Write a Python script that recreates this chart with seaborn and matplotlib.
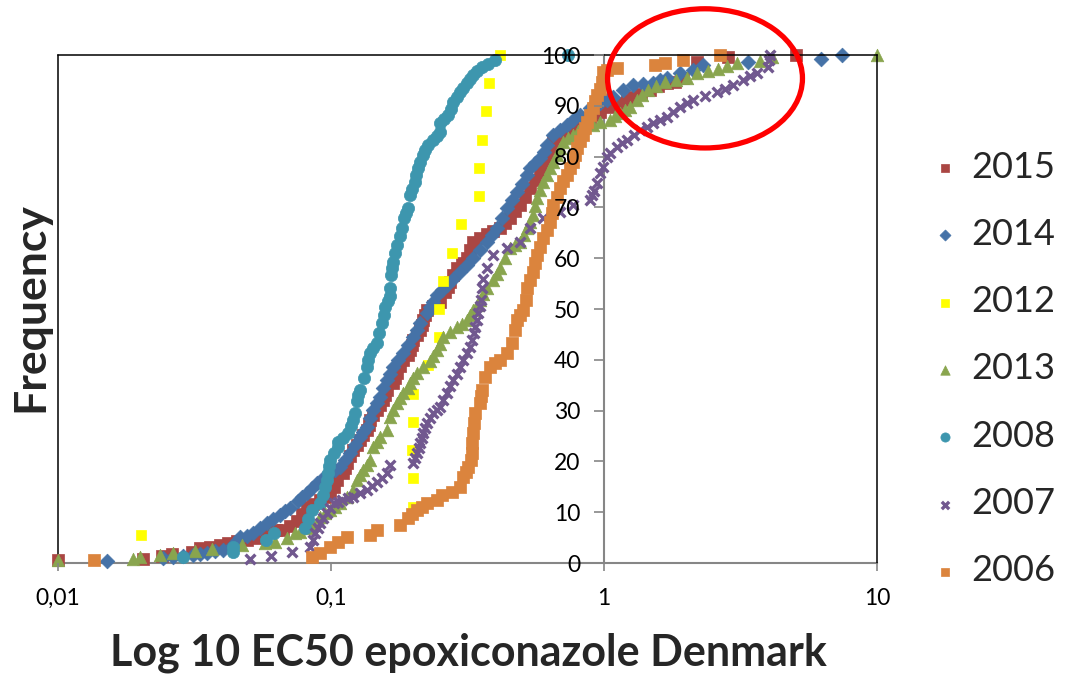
import matplotlib
matplotlib.use('Agg')
import matplotlib.pyplot as plt
from matplotlib.patches import Ellipse
from matplotlib.ticker import NullLocator
import seaborn as sns

sns.set_theme(style='white')
plt.rcParams['font.family'] = ['Lato', 'DejaVu Sans']

# ── EC50 values and cumulative frequency (%) per year ──
ec50_2015 = [0.0100, 0.0205, 0.0240, 0.0262, 0.0310, 0.0331, 0.0361, 0.0392, 0.0420, 0.0452,
             0.0493, 0.0536, 0.0560, 0.0598, 0.0630, 0.0667, 0.0708, 0.0751, 0.0783, 0.0817,
             0.0860, 0.0912, 0.0951, 0.0992, 0.1025, 0.1052, 0.1107, 0.1125, 0.1144, 0.1174,
             0.1204, 0.1245, 0.1277, 0.1310, 0.1355, 0.1377, 0.1389, 0.1425, 0.1474, 0.1512,
             0.1551, 0.1577, 0.1604, 0.1687, 0.1716, 0.1745, 0.1789, 0.1835, 0.1915, 0.1947,
             0.1980, 0.1997, 0.2066, 0.2118, 0.2155, 0.2173, 0.2210, 0.2248, 0.2364, 0.2508,
             0.2616, 0.2684, 0.2729, 0.2799, 0.2894, 0.3020, 0.3150, 0.3230, 0.3313, 0.3514,
             0.3727, 0.3920, 0.4159, 0.4339, 0.4525, 0.4720, 0.4924, 0.5136, 0.5357, 0.5588,
             0.5829, 0.6029, 0.6183, 0.6342, 0.6504, 0.6771, 0.7075, 0.7508, 0.7965, 0.8378,
             0.8887, 0.9270, 0.9668, 1.052, 1.144, 1.214, 1.277, 1.367, 1.474, 1.577,
             1.702, 1.820, 1.947, 2.190, 2.845, 5.05]
freq_2015 = [0.6, 0.8, 1.4, 1.8, 2.2, 3.0, 3.2, 3.5, 3.9, 4.3,
             4.6, 4.9, 5.5, 6.3, 6.4, 6.5, 7.3, 8.2, 9.6, 11.0,
             11.6, 12.4, 13.0, 13.8, 15.0, 16.3, 17.7, 18.7, 19.7, 21.0,
             22.2, 23.2, 24.2, 25.2, 26.2, 27.1, 28.1, 29.1, 30.1, 31.1,
             32.1, 33.1, 34.1, 35.4, 36.4, 37.4, 38.7, 40.0, 41.0, 41.9,
             42.9, 43.9, 44.9, 45.9, 46.9, 47.8, 48.8, 49.8, 50.6, 51.4,
             53.3, 54.3, 55.3, 56.7, 58.1, 59.0, 60.0, 61.6, 63.2, 64.0,
             64.8, 65.3, 65.9, 66.9, 67.9, 69.2, 70.5, 72.1, 73.8, 75.4,
             77.0, 78.6, 80.3, 81.6, 82.9, 83.9, 84.8, 85.5, 86.2, 86.9,
             87.6, 88.2, 88.8, 89.7, 90.6, 91.2, 91.7, 92.4, 93.1, 93.8,
             94.5, 94.7, 95.5, 98.6, 99.6, 100.0]

ec50_2014 = [0.0151, 0.0243, 0.0264, 0.0287, 0.0312, 0.0331, 0.0351, 0.0376, 0.0402, 0.0437,
             0.0452, 0.0464, 0.0493, 0.0518, 0.0550, 0.0583, 0.0612, 0.0651, 0.0679, 0.0708,
             0.0757, 0.0783, 0.0817, 0.0852, 0.0888, 0.0935, 0.0992, 0.1034, 0.1079, 0.1125,
             0.1174, 0.1224, 0.1277, 0.1310, 0.1355, 0.1389, 0.1425, 0.1474, 0.1512, 0.1557,
             0.1604, 0.1645, 0.1687, 0.1760, 0.1835, 0.1915, 0.1997, 0.2066, 0.2118, 0.2248,
             0.2305, 0.2364, 0.2445, 0.2551, 0.2661, 0.2799, 0.2969, 0.3150, 0.3313, 0.3514,
             0.3727, 0.3888, 0.4056, 0.4230, 0.4412, 0.4601, 0.4800, 0.5006, 0.5222, 0.5357,
             0.5588, 0.5829, 0.6029, 0.6183, 0.6504, 0.6900, 0.7320, 0.7700, 0.8168, 0.8887,
             0.9668, 1.026, 1.079, 1.174, 1.277, 1.390, 1.511, 1.604, 1.702, 1.898,
             2.118, 2.302, 3.368, 6.24, 7.45]
freq_2014 = [0.4, 1.0, 1.2, 1.4, 1.6, 1.8, 2.0, 2.3, 2.6, 3.5,
             4.3, 5.1, 5.4, 5.9, 6.9, 7.9, 8.7, 9.5, 10.2, 10.8,
             12.2, 13.0, 13.8, 14.8, 15.7, 16.7, 17.7, 18.3, 18.9, 20.3,
             21.7, 23.2, 24.8, 25.8, 26.8, 28.5, 30.1, 31.4, 32.7, 34.4,
             36.0, 37.3, 38.6, 40.0, 41.3, 43.0, 44.5, 45.8, 47.2, 49.2,
             50.3, 51.4, 52.8, 53.7, 54.7, 56.0, 57.3, 58.7, 60.0, 61.6,
             63.2, 64.5, 65.9, 67.9, 69.9, 71.5, 73.0, 74.6, 76.4, 77.8,
             78.7, 79.7, 81.0, 82.3, 84.3, 85.3, 86.2, 87.2, 88.2, 89.6,
             90.6, 91.2, 91.7, 93.1, 94.1, 94.3, 94.5, 95.0, 95.5, 96.5,
             97.0, 98.0, 98.6, 99.2, 100.0]

ec50_2012 = [0.0201, 0.1997, 0.1997, 0.1975, 0.1997, 0.1997, 0.2266, 0.2487, 0.2487,
             0.2572, 0.2776, 0.2994, 0.3484, 0.3484, 0.3574, 0.3696, 0.3791, 0.4159]
freq_2012 = [5.6, 11.1, 16.7, 22.2, 27.8, 33.3, 38.9, 44.4, 50.0,
             55.6, 61.1, 66.7, 72.2, 77.8, 83.3, 88.9, 94.4, 100.0]

ec50_2013 = [0.0100, 0.0188, 0.0200, 0.0236, 0.0264, 0.0318, 0.0366, 0.0472, 0.0573, 0.0624,
             0.0689, 0.0738, 0.0770, 0.0817, 0.0859, 0.0912, 0.0951, 0.0992, 0.1034, 0.1079,
             0.1144, 0.1204, 0.1245, 0.1277, 0.1310, 0.1355, 0.1389, 0.1425, 0.1474, 0.1512,
             0.1604, 0.1645, 0.1687, 0.1745, 0.1789, 0.1835, 0.1915, 0.1947, 0.1997, 0.2066,
             0.2173, 0.2305, 0.2364, 0.2445, 0.2508, 0.2572, 0.2729, 0.2894, 0.3020, 0.3150,
             0.3230, 0.3313, 0.3426, 0.3514, 0.3604, 0.3727, 0.3920, 0.4056, 0.4159, 0.4339,
             0.4525, 0.4720, 0.4924, 0.5092, 0.5222, 0.5357, 0.5494, 0.5588, 0.5683, 0.5829,
             0.5977, 0.6183, 0.6342, 0.6504, 0.6727, 0.6900, 0.7075, 0.7385, 0.7700, 0.8032,
             0.8378, 0.9115, 0.9668, 1.052, 1.097, 1.144, 1.194, 1.245, 1.322, 1.378,
             1.449, 1.550, 1.673, 1.836, 2.013, 2.190, 2.404, 2.617, 2.822, 3.071,
             3.727, 4.128, 10.0]
freq_2013 = [0.6, 0.8, 1.2, 1.6, 2.0, 2.4, 2.8, 3.5, 3.9, 4.1,
             4.9, 5.9, 6.1, 6.8, 7.5, 9.1, 9.8, 10.4, 11.1, 11.8,
             13.0, 14.4, 16.3, 17.3, 18.3, 19.3, 20.3, 22.8, 23.8, 24.8,
             26.2, 28.7, 30.1, 31.5, 32.5, 33.5, 34.5, 35.4, 36.4, 37.4,
             38.6, 39.8, 40.8, 41.9, 43.2, 44.5, 45.5, 46.5, 47.1, 47.8,
             48.8, 49.8, 50.8, 51.8, 52.9, 54.1, 55.7, 56.9, 58.1, 60.0,
             62.0, 62.6, 63.2, 64.6, 65.9, 67.2, 68.5, 70.2, 71.9, 73.4,
             75.0, 76.4, 77.8, 79.0, 80.3, 81.6, 82.9, 83.6, 84.3, 85.0,
             85.6, 86.2, 86.8, 87.2, 87.9, 88.6, 89.2, 89.8, 91.1, 92.1,
             93.1, 93.9, 94.7, 95.1, 95.5, 96.5, 96.8, 97.2, 97.8, 98.4,
             98.8, 99.6, 100.0]

ec50_2008 = [0.0287, 0.0437, 0.0437, 0.0578, 0.0618, 0.0803, 0.0824, 0.0852, 0.0912, 0.0935,
             0.0951, 0.0967, 0.0975, 0.0983, 0.0992, 0.1025, 0.1061, 0.1061, 0.1107, 0.1154,
             0.1184, 0.1204, 0.1224, 0.1245, 0.1256, 0.1277, 0.1321, 0.1355, 0.1366, 0.1389,
             0.1425, 0.1474, 0.1499, 0.1538, 0.1564, 0.1577, 0.1618, 0.1645, 0.1645, 0.1659,
             0.1673, 0.1687, 0.1716, 0.1745, 0.1789, 0.1820, 0.1851, 0.1883, 0.1915, 0.1947,
             0.1980, 0.2031, 0.2048, 0.2083, 0.2118, 0.2173, 0.2210, 0.2266, 0.2364, 0.2445,
             0.2508, 0.2508, 0.2594, 0.2684, 0.2753, 0.2799, 0.2894, 0.2969, 0.3045, 0.3150,
             0.3230, 0.3313, 0.3426, 0.3574, 0.3760, 0.3988, 0.7385]
freq_2008 = [1.2, 2.2, 3.1, 4.5, 5.9, 6.9, 8.6, 10.4, 11.8, 13.4,
             15.0, 16.3, 17.7, 19.0, 20.3, 21.6, 22.8, 23.8, 24.7, 25.6,
             27.0, 28.2, 29.5, 31.8, 33.0, 34.1, 36.4, 38.6, 40.0, 41.3,
             42.3, 43.3, 45.3, 47.2, 48.8, 50.4, 51.5, 52.5, 54.1, 56.7,
             58.0, 59.3, 61.0, 62.6, 64.3, 65.9, 67.9, 68.9, 69.9, 72.4,
             73.7, 75.0, 76.4, 77.8, 79.0, 80.3, 81.3, 82.3, 83.3, 84.0,
             84.8, 86.6, 87.4, 88.2, 89.4, 90.7, 91.7, 92.7, 93.6, 94.5,
             95.3, 96.1, 96.9, 97.6, 98.3, 99.0, 100.0]

ec50_2007 = [0.0505, 0.0603, 0.0720, 0.0838, 0.0860, 0.0874, 0.0897, 0.0912, 0.0935, 0.0968,
             0.0992, 0.1025, 0.1061, 0.1097, 0.1154, 0.1204, 0.1277, 0.1355, 0.1413, 0.1474,
             0.1538, 0.1604, 0.1645, 0.1997, 0.2031, 0.2066, 0.2100, 0.2118, 0.2155, 0.2173,
             0.2210, 0.2248, 0.2305, 0.2364, 0.2445, 0.2508, 0.2572, 0.2661, 0.2729, 0.2799,
             0.2894, 0.2969, 0.3045, 0.3150, 0.3230, 0.3285, 0.3341, 0.3369, 0.3426, 0.3455,
             0.3514, 0.3544, 0.3574, 0.3604, 0.3727, 0.3920, 0.4412, 0.4924, 0.5357, 0.5977,
             0.6900, 0.7700, 0.8887, 0.9039, 0.9192, 0.9428, 0.9668, 0.9915, 1.026, 1.052,
             1.115, 1.164, 1.214, 1.288, 1.355, 1.437, 1.511, 1.604, 1.702, 1.790,
             1.898, 2.014, 2.118, 2.344, 2.593, 2.774, 2.970, 3.230, 3.426, 3.640,
             3.990, 4.020, 4.056]
freq_2007 = [0.8, 1.4, 2.2, 3.1, 4.5, 5.9, 6.9, 7.9, 8.9, 9.8,
             10.8, 11.8, 12.1, 12.4, 12.7, 13.0, 13.8, 14.4, 15.1, 15.9,
             16.8, 17.7, 19.3, 19.7, 20.7, 21.7, 22.7, 23.6, 24.6, 25.6,
             26.6, 27.6, 28.5, 29.5, 30.1, 30.7, 32.1, 33.5, 34.8, 36.0,
             37.3, 38.6, 40.0, 41.3, 42.6, 43.9, 45.2, 46.5, 47.8, 49.2,
             50.5, 51.8, 54.1, 56.0, 58.1, 60.6, 62.0, 63.2, 65.9, 67.9,
             69.1, 70.5, 71.5, 72.4, 73.2, 74.8, 76.8, 78.0, 79.9, 80.7,
             81.9, 82.6, 83.3, 84.3, 85.2, 85.9, 86.6, 87.2, 87.8, 88.8,
             89.8, 90.5, 91.1, 91.9, 92.7, 93.4, 94.1, 95.1, 95.8, 96.5,
             97.6, 99.0, 100.0]

ec50_2006 = [0.0136, 0.0852, 0.0912, 0.0992, 0.1061, 0.1144, 0.1389, 0.1474, 0.1789, 0.1915,
             0.1980, 0.2066, 0.2155, 0.2248, 0.2445, 0.2551, 0.2776, 0.2969, 0.3045, 0.3124,
             0.3176, 0.3258, 0.3285, 0.3285, 0.3313, 0.3341, 0.3369, 0.3514, 0.3544, 0.3574,
             0.3665, 0.3823, 0.3988, 0.4159, 0.4412, 0.4601, 0.4720, 0.4800, 0.4924, 0.5050,
             0.5180, 0.5222, 0.5357, 0.5494, 0.5588, 0.5683, 0.5829, 0.5977, 0.6183, 0.6342,
             0.6450, 0.6504, 0.6727, 0.6900, 0.7075, 0.7320, 0.7508, 0.7700, 0.7831, 0.7965,
             0.8168, 0.8378, 0.8520, 0.8663, 0.8887, 0.9115, 0.9270, 0.9428, 0.9668, 0.9830,
             0.9915, 1.026, 1.115, 1.537, 1.673, 1.947, 2.660]
freq_2006 = [0.6, 1.2, 2.0, 3.1, 4.1, 5.1, 5.5, 6.5, 7.5, 8.9,
             9.6, 10.4, 11.1, 11.8, 12.4, 13.4, 14.0, 15.0, 16.9, 17.9,
             18.9, 20.3, 21.7, 23.6, 25.6, 27.6, 29.5, 31.5, 32.8, 34.1,
             36.6, 38.6, 39.3, 40.0, 41.3, 43.3, 45.9, 47.8, 48.8, 49.8,
             51.8, 54.1, 55.7, 57.3, 59.0, 60.6, 62.3, 64.0, 65.6, 67.1,
             68.8, 70.5, 72.1, 73.8, 75.1, 76.4, 77.7, 78.9, 80.3, 81.7,
             83.0, 84.3, 85.6, 86.8, 88.2, 89.6, 90.9, 92.1, 93.4, 94.7,
             96.7, 97.0, 97.4, 98.0, 98.4, 99.0, 100.0]

YEARS = ["2015", "2014", "2012", "2013", "2008", "2007", "2006"]
XTICKS = [0.01, 0.1, 1, 10]
XTICK_LABELS = ["0,01", "0,1", "1", "10"]
YTICKS = list(range(0, 101, 10))

SERIES = {
    "2015": (ec50_2015, freq_2015),
    "2014": (ec50_2014, freq_2014),
    "2012": (ec50_2012, freq_2012),
    "2013": (ec50_2013, freq_2013),
    "2008": (ec50_2008, freq_2008),
    "2007": (ec50_2007, freq_2007),
    "2006": (ec50_2006, freq_2006),
}

# Excel 2007 marker styles
STYLE = {
    "2015": dict(marker='s', color='#AA4643', s=74, lw=0.5),
    "2014": dict(marker='D', color='#4572A7', s=56, lw=0.5),
    "2012": dict(marker='s', color='#FFFF00', s=46, lw=0.5),
    "2013": dict(marker='^', color='#89A54E', s=82, lw=0.5),
    "2008": dict(marker='o', color='#3D96AE', s=78, lw=0.5),
    "2007": dict(marker='x', color='#71588F', s=50, lw=2.4),
    "2006": dict(marker='s', color='#DB843D', s=74, lw=0.5),
}

GREY = '#868686'

fig = plt.figure(figsize=(10.66, 6.77), dpi=100)
ax = fig.add_axes([58 / 1066, 114 / 677, 819 / 1066, 508 / 677])

for year in YEARS:
    xs, ys = SERIES[year]
    st = STYLE[year]
    sns.scatterplot(x=xs, y=ys, ax=ax, marker=st['marker'], color=st['color'],
                    s=st['s'], edgecolor=st['color'], linewidth=st['lw'],
                    label=year, clip_on=False, zorder=2)

ax.set_xscale('log')
ax.set_xlim(0.01, 10)
ax.set_ylim(0, 100)
ax.set_xticks(XTICKS)
ax.set_xticklabels(XTICK_LABELS)
ax.xaxis.set_minor_locator(NullLocator())
ax.set_yticks(YTICKS)
ax.set_xlabel('')
ax.set_ylabel('')

# Excel look: value axis crosses at x = 1, black plot-area border
ax.spines['left'].set_position(('data', 1))
for side in ('left', 'bottom'):
    ax.spines[side].set_color(GREY)
    ax.spines[side].set_linewidth(1.5)
    ax.spines[side].set_zorder(1.5)
for side in ('top', 'right'):
    ax.spines[side].set_color('black')
    ax.spines[side].set_linewidth(1.1)
ax.plot([0, 0], [0, 1], transform=ax.transAxes, color='black', lw=1.1,
        clip_on=False, zorder=1.5)

ax.tick_params(axis='y', direction='out', length=7, width=1.2, color=GREY,
               labelsize=16.5, pad=10, left=True, labelcolor='black')
ax.tick_params(axis='x', direction='out', length=6, width=1.2, color=GREY,
               labelsize=16.5, pad=12, bottom=True, labelcolor='black')
ax.xaxis.set_zorder(5)
ax.yaxis.set_zorder(5)

fig.text(30 / 1066, 1 - 307 / 677, 'Frequency', rotation=90, ha='center', va='center',
         fontsize=32, fontweight='bold')
fig.text(468 / 1066, 1 - 653 / 677, 'Log 10 EC50 epoxiconazole Denmark', ha='center',
         va='center', fontsize=31, fontweight='bold')

ax.legend(loc='center left', bbox_to_anchor=(0.842, 0.455), bbox_transform=fig.transFigure,
          frameon=False, fontsize=26, handlelength=0.8, handletextpad=0.35,
          labelspacing=0.95, borderpad=0.4, scatterpoints=1, markerscale=0.75)

# red highlight ring
ax.add_patch(Ellipse((0.790, 0.954), width=0.238, height=0.274, transform=ax.transAxes,
                     fill=False, edgecolor='#FF0000', lw=3.8, clip_on=False, zorder=6))

fig.savefig('out.png', dpi=100, facecolor='white')
